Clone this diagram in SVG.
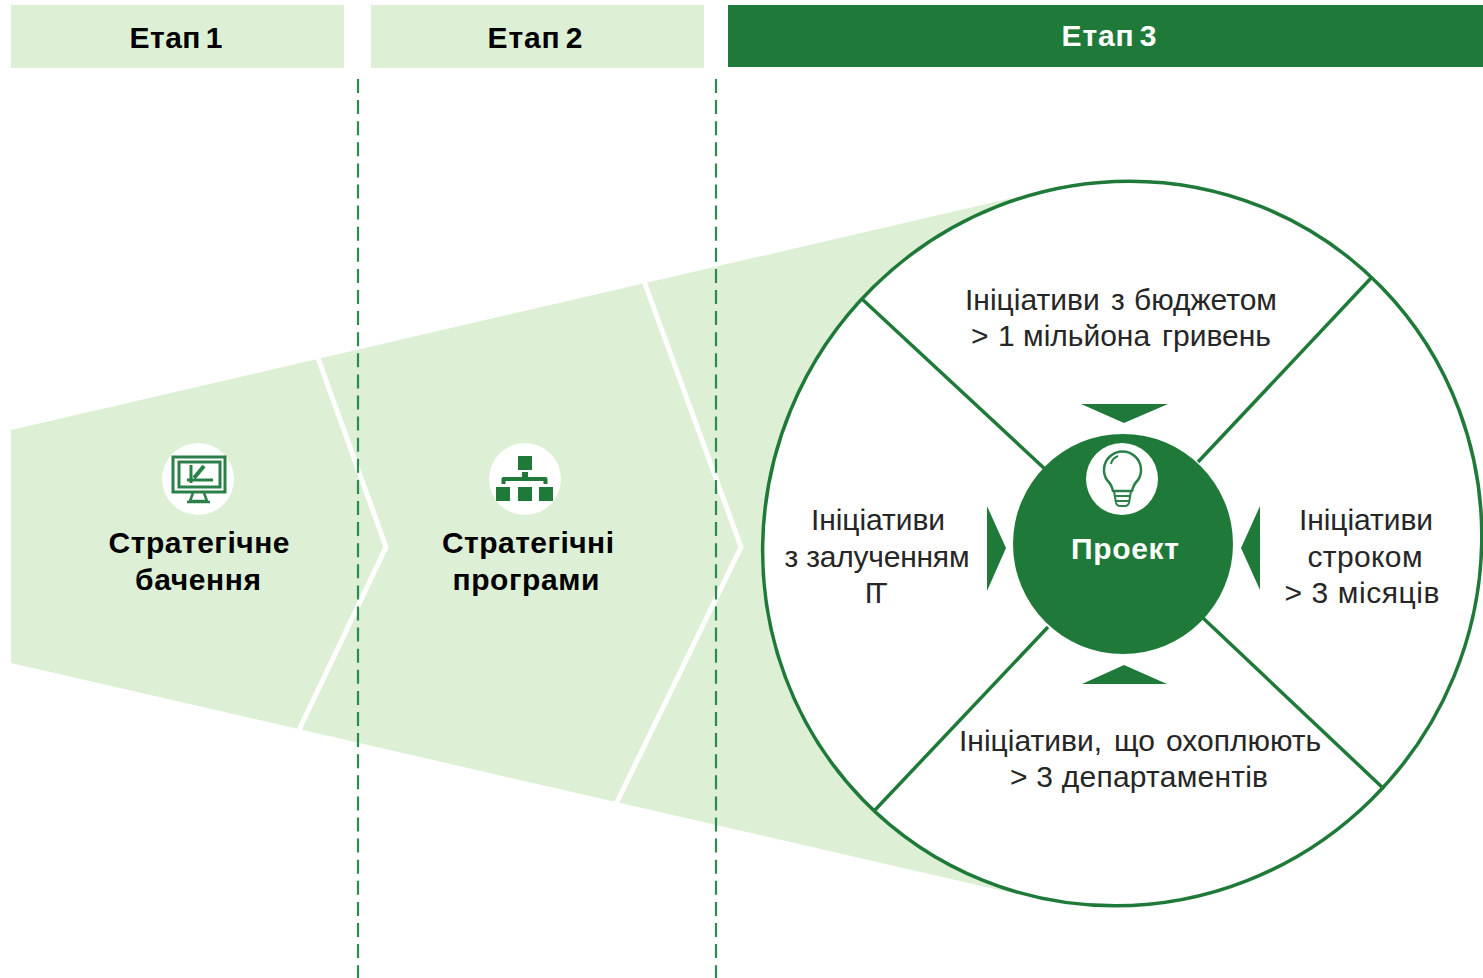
<svg xmlns="http://www.w3.org/2000/svg" width="1483" height="978" viewBox="0 0 1483 978">
<style>
text{font-family:"Liberation Sans",Arial,sans-serif;text-anchor:middle}
.h{font-size:30px;font-weight:bold;fill:#000;word-spacing:-4px}
.b{font-size:30px;font-weight:bold;fill:#000}
.r{font-size:30px;fill:#262626}
.s{text-anchor:start}
.l{fill:#ddefd5}
.d{fill:#1f7a39}
.ln{stroke:#1f7a39;stroke-width:3.500;fill:none}
.ic{fill:none;stroke:#2a8048;stroke-width:3}
.w{stroke:#fff;stroke-width:5;fill:none}
.dash{stroke:#2f8a50;stroke-width:2.200;stroke-dasharray:14 7.100;fill:none}
</style>
<rect width="1483" height="978" fill="#fff"/>
<g id="funnel">
<polygon class="l" points="11,430 1012,198 1012,893 11,663"/>
</g>
<g id="chevrons">
<polyline class="w" points="318,358 386,547 299,730"/>
<polyline class="w" points="644,281 741,547 616,804"/>
</g>
<g id="stage1"><rect class="l" x="11" y="5" width="333" height="63"/><text class="h" x="176" y="48" textLength="93">Етап 1</text></g>
<g id="stage2"><rect class="l" x="371" y="5" width="333" height="63"/><text class="h" x="535" y="48" textLength="95">Етап 2</text></g>
<g id="stage3"><rect class="d" x="728" y="5" width="755" height="62"/><text class="h" x="1109" y="46" textLength="95" style="fill:#fff">Етап 3</text></g>
<g id="wheel">
<ellipse rx="359.500" ry="362.300" transform="translate(1122.200 543.500) skewX(-1.150)" fill="#fff" stroke="#1f7a39" stroke-width="3.500"/>
</g>
<g id="connectors">
<line class="dash" x1="358" y1="79" x2="358" y2="978"/>
<line class="dash" x1="716" y1="79" x2="716" y2="978"/>
<line class="ln" x1="862" y1="299" x2="1046" y2="470"/>
<line class="ln" x1="1372" y1="277" x2="1198" y2="462"/>
<line class="ln" x1="875" y1="810" x2="1048" y2="627"/>
<line class="ln" x1="1384" y1="789" x2="1203" y2="618"/>
</g>
<g id="vision">
<circle cx="198" cy="479" r="36" fill="#fff"/>
<g class="ic">
<rect x="173" y="457" width="52" height="35"/>
<rect x="179" y="462" width="41" height="25"/>
<path d="M193 493l-3 8h17l-3-8M187 502h23" stroke-width="2.500"/>
<path d="M191 465v18M187 480h26"/>
<path d="M194 478l10-12" stroke-width="4"/>
</g>
<text class="b" x="199" y="553" textLength="181">Стратегічне</text>
<text class="b" x="198" y="590" textLength="126">бачення</text>
</g>
<g id="programs">
<circle cx="525" cy="479" r="36" fill="#fff"/>
<g class="d">
<rect x="518" y="456" width="14" height="14"/>
<rect x="496" y="487" width="14" height="14"/>
<rect x="518" y="487" width="14" height="14"/>
<rect x="539" y="487" width="14" height="14"/>
<rect x="522" y="472" width="6" height="7"/>
</g>
<path d="M503.500 484v-5h42v5" fill="none" stroke="#1f7a39" stroke-width="4" stroke-linejoin="round"/>
<text class="b" x="528" y="553" textLength="172">Стратегічні</text>
<text class="b" x="526" y="590" textLength="147">програми</text>
</g>
<g id="budget">
<text class="r s" y="310"><tspan x="965">Ініціативи</tspan> <tspan x="1111">з</tspan> <tspan x="1134">бюджетом</tspan></text>
<text class="r s" y="346"><tspan x="971">&gt;</tspan> <tspan x="998">1</tspan> <tspan x="1023">мільйона</tspan> <tspan x="1162">гривень</tspan></text>
<polygon class="d" points="1081,404 1168,404 1124,423"/>
</g>
<g id="it">
<text class="r" x="878" y="530" textLength="134">Ініціативи</text>
<text class="r" x="877" y="567" textLength="185">з залученням</text>
<text class="r" x="876" y="603" textLength="23">ІТ</text>
<polygon class="d" points="987,506 987,591 1006,548"/>
</g>
<g id="term">
<text class="r" x="1366" y="530" textLength="134">Ініціативи</text>
<text class="r" x="1365" y="567" textLength="115">строком</text>
<text class="r" x="1362" y="603" textLength="155">&gt; 3 місяців</text>
<polygon class="d" points="1260,506 1260,590 1241,548"/>
</g>
<g id="departments">
<text class="r s" y="751"><tspan x="959">Ініціативи,</tspan> <tspan x="1114">що</tspan> <tspan x="1166">охоплюють</tspan></text>
<text class="r" x="1139" y="787" textLength="258">&gt; 3 департаментів</text>
<polygon class="d" points="1082,684 1167,684 1124,665"/>
</g>
<g id="project">
<circle class="d" cx="1123" cy="544" r="110"/>
<circle cx="1122" cy="479" r="36" fill="#fff"/>
<path d="M1113 491c-1-5-3-8-6-11a18.500 18.500 0 1 1 31 0c-3 3-5 6-6 11z" fill="none" stroke="#2a8048" stroke-width="2.500" stroke-linejoin="round"/>
<path d="M1114 491l2 12q1 3 4 3h5q3 0 4-3l2-12M1115 496h15M1116 501h13M1111 464a11 11 0 0 1 7-8" fill="none" stroke="#2a8048" stroke-width="2"/>
<text class="h" x="1125" y="559" textLength="108" style="fill:#fff">Проект</text>
</g>
</svg>
